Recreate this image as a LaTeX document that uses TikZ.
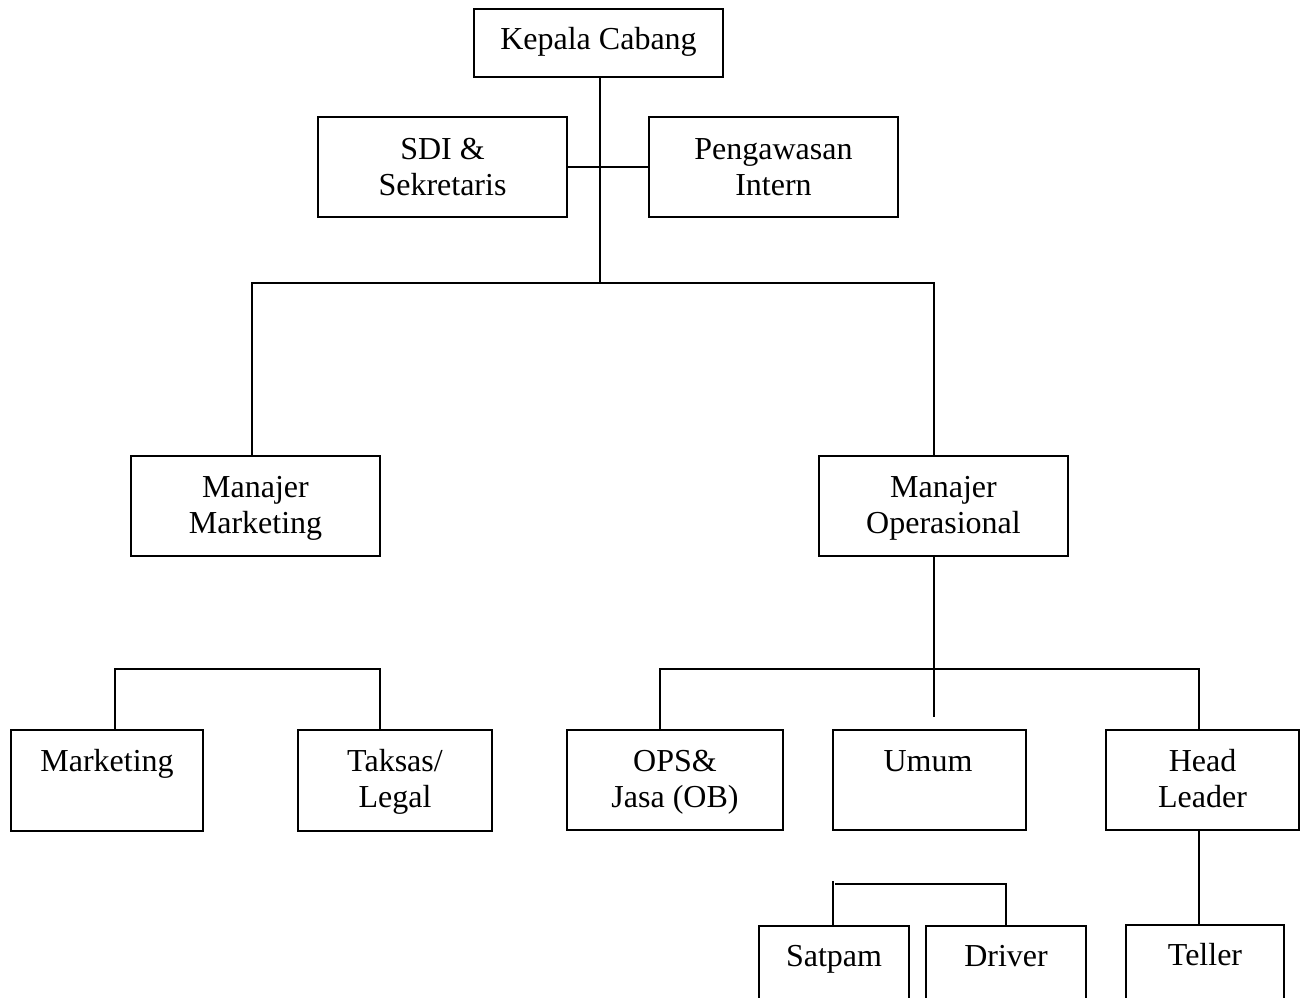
\documentclass[tikz,border=0pt]{standalone}
\usepackage{fontspec}
\setmainfont{Liberation Serif}
\tikzset{
  orgbox/.style={draw, line width=2pt, rectangle, inner sep=0pt, outer sep=0pt, anchor=north west},
  txt/.style={anchor=base, inner sep=0pt, font=\fontsize{32}{36}\selectfont},
  conn/.style={line width=2pt}
}
\newcommand\tl[1]{\begin{tabular}[t]{@{}c@{}}#1\end{tabular}}
\begin{document}
\begin{tikzpicture}[x=1pt,y=-1pt]
\useasboundingbox (0,0) rectangle (1301,997);
\clip (0,0) rectangle (1301,997);
\fill[white] (0,0) rectangle (1301,997);
% boxes
\node[orgbox, minimum width=249pt, minimum height=68pt] (kc) at (474,9) {};
\node[orgbox, minimum width=249pt, minimum height=100pt] (sdi) at (318,117) {};
\node[orgbox, minimum width=249pt, minimum height=100pt] (pi) at (649,117) {};
\node[orgbox, minimum width=249pt, minimum height=100pt] (mm) at (131,456) {};
\node[orgbox, minimum width=249pt, minimum height=100pt] (mo) at (819,456) {};
\node[orgbox, minimum width=192pt, minimum height=101pt] (mk) at (11,730) {};
\node[orgbox, minimum width=194pt, minimum height=101pt] (tx) at (298,730) {};
\node[orgbox, minimum width=216pt, minimum height=100pt] (ops) at (567,730) {};
\node[orgbox, minimum width=193pt, minimum height=100pt] (um) at (833,730) {};
\node[orgbox, minimum width=193pt, minimum height=100pt] (hl) at (1106,730) {};
\node[orgbox, minimum width=150pt, minimum height=110pt] (sp) at (759,926) {};
\node[orgbox, minimum width=160pt, minimum height=110pt] (dr) at (926,926) {};
\node[orgbox, minimum width=158pt, minimum height=110pt] (te) at (1126,925) {};
% texts
\node[txt] at ([yshift=-40pt]kc.north) {Kepala Cabang};
\node[txt] at ([yshift=-42pt]sdi.north) {\tl{SDI \&\\Sekretaris}};
\node[txt] at ([yshift=-42pt]pi.north) {\tl{Pengawasan\\Intern}};
\node[txt] at ([yshift=-41pt]mm.north) {\tl{Manajer\\Marketing}};
\node[txt] at ([yshift=-41pt]mo.north) {\tl{Manajer\\Operasional}};
\node[txt] at ([yshift=-41pt]mk.north) {Marketing};
\node[txt] at ([yshift=-41pt]tx.north) {\tl{Taksas/\\Legal}};
\node[txt] at ([yshift=-41pt]ops.north) {\tl{OPS\&\\Jasa (OB)}};
\node[txt] at ([yshift=-41pt,xshift=-1.5pt]um.north) {Umum};
\node[txt] at ([yshift=-41pt]hl.north) {\tl{Head\\Leader}};
\node[txt] at ([yshift=-40pt]sp.north) {Satpam};
\node[txt] at ([yshift=-40pt]dr.north) {Driver};
\node[txt] at ([yshift=-40pt]te.north) {Teller};
% connectors
\coordinate (bus1) at (600,283);
\coordinate (bus2) at (934,669);
\coordinate (umend) at (934,717);
\draw[conn] (kc.south -| bus1) -- (bus1);
\draw[conn] (sdi.east) -- (pi.west);
\draw[conn] ([xshift=-3.5pt]mm.north) |- (bus1) -| (mo.north -| bus2);
\draw[conn] (mo.south -| bus2) -- (umend);
\draw[conn] ([xshift=-15pt]ops.north) |- (bus2) -| ([xshift=-3.5pt]hl.north);
\draw[conn] ([xshift=8pt]mk.north) -- ++(0,-61) -| ([xshift=-15pt]tx.north);
\draw[conn] ([xshift=-1pt]sp.north) -- ++(0,-45);
\draw[conn] ([xshift=1pt,yshift=42pt]sp.north) -| (dr.north);
\draw[conn] ([xshift=-3.5pt]hl.south) -- ([xshift=-3.5pt]hl.south |- te.north);
\end{tikzpicture}
\end{document}
